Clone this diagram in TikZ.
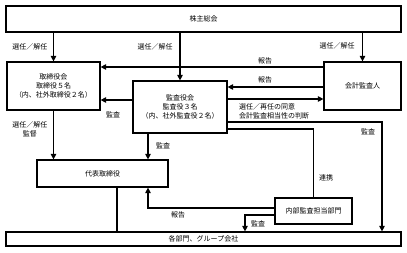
\documentclass[tikz,border=0pt]{standalone}
\usepackage{fontspec}
\setmainfont{Noto Sans CJK JP}
\usetikzlibrary{arrows.meta,calc}
\begin{document}
\begin{tikzpicture}[x=1pt,y=-1pt,
 box/.style={draw,line width=1.2pt,rectangle,inner sep=0pt,align=center,font=\fontsize{7}{9}\selectfont},
 conn/.style={line width=1.1pt},
 arr/.style={conn,-{Triangle[length=5.5pt,width=5.5pt]}},
 lbl/.style={inner sep=0pt,align=center,font=\fontsize{7}{9}\selectfont}]
\useasboundingbox (0,0) rectangle (407,252);
% boxes
\node[box,minimum width=395pt,minimum height=26pt] (sh) at (203.5,19) {株主総会};
\node[box,minimum width=93pt,minimum height=48pt] (tori) at (53.5,86) {取締役会\\取締役５名\\（内、社外取締役２名）};
\node[box,minimum width=94pt,minimum height=52pt] (kansa) at (180,107) {監査役会\\監査役３名\\（内、社外監査役２名）};
\node[box,minimum width=77pt,minimum height=48pt] (kk) at (362.5,86) {会計監査人};
\node[box,minimum width=131pt,minimum height=27pt] (daihyo) at (102.5,173.5) {代表取締役};
\node[box,minimum width=77pt,minimum height=26pt] (naibu) at (313.5,211) {内部監査担当部門};
\node[box,minimum width=395pt,minimum height=14pt] (bot) at (203.5,239) {各部門、グループ会社};
% helper coordinates
\coordinate (r67) at (0,67);
\coordinate (r87) at (0,87);
\coordinate (r99) at (0,99);
\coordinate (c1) at (382,122);
\coordinate (c2) at (313.5,129);
\coordinate (c3) at (0,100);
\coordinate (c4) at (148,0);
\coordinate (c5) at (117,0);
\coordinate (c6) at (148,208);
\coordinate (c7) at (245,215);
% connectors
\draw[arr] (tori.north |- sh.south) -- (tori.north);
\draw[arr] (kansa.north |- sh.south) -- (kansa.north);
\draw[arr] (kk.north |- sh.south) -- (kk.north);
\draw[arr] (kk.west |- r67) -- (tori.east |- r67);
\draw[arr] (kk.west |- r87) -- (kansa.east |- r87);
\draw[arr] (kansa.east |- r99) -- (kk.west |- r99);
\draw[arr] (kansa.east |- c1) -- (c1) -- (c1 |- bot.north);
\draw[conn] (kansa.east |- c2) -- (c2) -- (naibu.north);
\draw[arr] (kansa.west |- c3) -- (tori.east |- c3);
\draw[arr] (tori.south) -- (tori.south |- daihyo.north);
\draw[arr] (c4 |- kansa.south) -- (c4 |- daihyo.north);
\draw[conn] (c5 |- daihyo.south) -- (c5 |- bot.north);
\draw[arr] (naibu.west |- c6) -- (c6) -- (c6 |- daihyo.south);
\draw[arr] (naibu.west |- c7) -- (c7) -- (c7 |- bot.north);
% labels
\node[lbl] (l1) at (30,47) {選任／解任};
\node[lbl] (l2) at (155,47) {選任／解任};
\node[lbl] (l3) at (337,46) {選任／解任};
\node[lbl] (l4) at (265,61) {報告};
\node[lbl] (l5) at (265,80) {報告};
\node[lbl,align=left,anchor=north west] (l6) at (239,103) {選任／再任の同意\\会計監査相当性の判断};
\node[lbl] (l7) at (113,115) {監査};
\node[lbl] (l8) at (30,129) {選任／解任\\監督};
\node[lbl] (l9) at (163,146) {監査};
\node[lbl] (l10) at (368,132) {監査};
\node[lbl] (l11) at (326,178) {連携};
\node[lbl] (l12) at (178,215) {報告};
\node[lbl] (l13) at (258,224) {監査};
\end{tikzpicture}
\end{document}
